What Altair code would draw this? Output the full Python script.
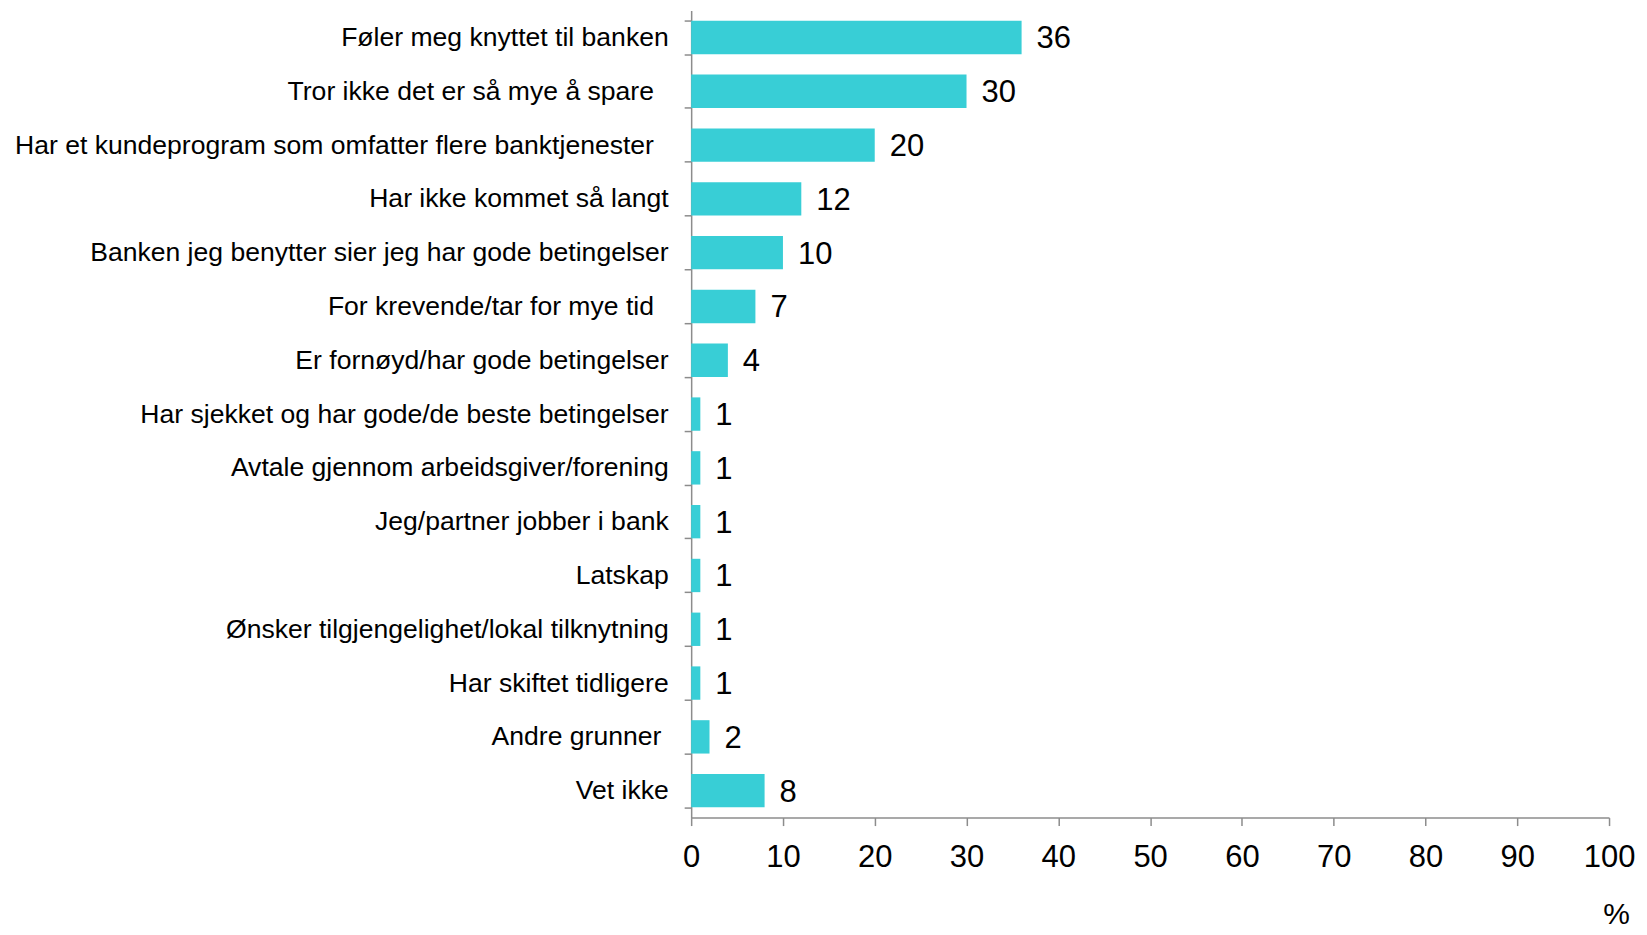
import altair as alt
import pandas as pd

PAD2 = "\u00a0\u00a0\u200b"
PAD1 = "\u00a0\u200b"

categories = [
    "Føler meg knyttet til banken",
    "Tror ikke det er så mye å spare" + PAD2,
    "Har et kundeprogram som omfatter flere banktjenester" + PAD2,
    "Har ikke kommet så langt",
    "Banken jeg benytter sier jeg har gode betingelser",
    "For krevende/tar for mye tid" + PAD2,
    "Er fornøyd/har gode betingelser",
    "Har sjekket og har gode/de beste betingelser",
    "Avtale gjennom arbeidsgiver/forening",
    "Jeg/partner jobber i bank",
    "Latskap",
    "Ønsker tilgjengelighet/lokal tilknytning",
    "Har skiftet tidligere",
    "Andre grunner" + PAD1,
    "Vet ikke",
]
values = [36, 30, 20, 12, 10, 7, 4, 1, 1, 1, 1, 1, 1, 2, 8]
x_ticks = [0, 10, 20, 30, 40, 50, 60, 70, 80, 90, 100]

df = pd.DataFrame({"cat": categories, "val": values})

FONT = "Liberation Sans"
GRAY = "#8c8c8c"

y_enc = alt.Y(
    "cat:N",
    sort=categories,
    scale=alt.Scale(paddingInner=0.38, paddingOuter=0.19),
    axis=alt.Axis(
        title=None,
        labelFont=FONT,
        labelFontSize=26.6,
        labelColor="#000000",
        labelPadding=16,
        labelLimit=0,
        tickBand="extent",
        tickSize=7,
        tickColor=GRAY,
        domainColor=GRAY,
        tickWidth=1.5,
        domainWidth=1.5,
    ),
)

bars = alt.Chart(df).mark_bar(color="#38CED6").encode(
    x=alt.X(
        "val:Q",
        scale=alt.Scale(domain=[0, 100], nice=False),
        axis=alt.Axis(
            values=x_ticks,
            title="%",
            titleFont=FONT,
            titleFontSize=30,
            titleFontWeight="normal",
            titleColor="#000000",
            titleX=926,
            titleY=82,
            titleAlign="center",
            titleBaseline="top",
            labelFont=FONT,
            labelFontSize=31,
            labelColor="#000000",
            labelPadding=17,
            labelFlush=False,
            tickSize=8,
            tickColor=GRAY,
            domainColor=GRAY,
            tickWidth=1.5,
            domainWidth=1.5,
            grid=False,
        ),
    ),
    y=y_enc,
)

labels = alt.Chart(df).mark_text(
    align="left",
    baseline="middle",
    dx=15,
    dy=2,
    font=FONT,
    fontSize=31,
    color="#000000",
).encode(
    x="val:Q",
    y=alt.Y("cat:N", sort=categories),
    text="val:Q",
)

chart = (
    alt.layer(bars, labels)
    .properties(
        width=919,
        height=808,
        autosize=alt.AutoSizeParams(type="none"),
        padding={"left": 684, "top": 2, "right": 30, "bottom": 115},
    )
    .configure_view(stroke=None)
)

chart.save("out.html", embed_options={"renderer": "svg", "actions": False})
